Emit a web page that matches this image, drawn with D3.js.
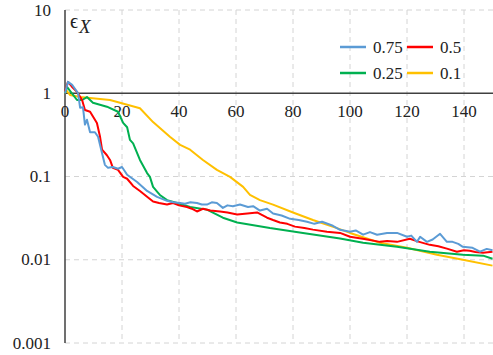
<!DOCTYPE html>
<html>
<head>
<meta charset="utf-8">
<script src="https://cdn.jsdelivr.net/npm/d3@7"></script>
<style>
  body { margin:0; background:#fff; }
</style>
</head>
<body>
<div id="chart"></div>
<script>
// iteration steps and error values
var xTicks = [0, 20, 40, 60, 80, 100, 120, 140];
var yTicks = [10, 1, 0.1, 0.01, 0.001];
var yTickLabels = ["10", "1", "0.1", "0.01", "0.001"];

var stepsBlue = [0, 1.05, 2.5, 4.6, 5.3, 6.3, 7, 7.7, 8.8, 10.5, 11.6, 13, 14, 15.1, 16.8, 18.6, 20, 21.8, 25.3, 28.8, 32.3, 35.8, 38, 40.4, 42.1, 44, 46.3, 48, 49.8, 51.5, 53.3, 55.4, 57, 58.9, 61.4, 64.2, 66, 68.4, 70.9, 73, 76, 79, 82, 84.9, 87.5, 90.2, 94, 96.5, 100, 102, 104.6, 107, 109.5, 113, 116.5, 120, 121.5, 123.5, 124.6, 127, 129, 131.6, 134, 136, 138, 139.6, 143, 145.6, 148, 150];
var valsBlue  = [1.0, 1.37, 1.26, 1.0, 0.67, 0.68, 0.42, 0.48, 0.34, 0.34, 0.30, 0.19, 0.138, 0.127, 0.13, 0.124, 0.13, 0.105, 0.086, 0.067, 0.057, 0.051, 0.049, 0.048, 0.047, 0.049, 0.048, 0.046, 0.046, 0.049, 0.048, 0.042, 0.045, 0.044, 0.046, 0.043, 0.044, 0.039, 0.041, 0.036, 0.034, 0.031, 0.030, 0.0286, 0.027, 0.0286, 0.0256, 0.0229, 0.0217, 0.0225, 0.020, 0.0215, 0.020, 0.021, 0.021, 0.0189, 0.0195, 0.0164, 0.0189, 0.0164, 0.0175, 0.0205, 0.0164, 0.0164, 0.0155, 0.0143, 0.0139, 0.0125, 0.0135, 0.0130];

var stepsRed = [0, 1.05, 2.5, 4.2, 6, 7, 8.8, 11.2, 12.3, 13, 14.7, 15.8, 16.8, 18.6, 20.4, 21.8, 23.9, 26.3, 28.8, 30.9, 33, 35.8, 37.9, 40, 42.8, 44.5, 46.3, 48.4, 51, 54.4, 57, 60.4, 64, 67.4, 70.9, 73, 75.4, 78, 80.7, 84, 87, 91.9, 96.5, 100, 105, 110.5, 113, 116.5, 121, 124, 128, 131, 134, 137.5, 140, 142, 144, 146.7, 150];
var valsRed  = [1.05, 1.37, 1.19, 1.04, 0.83, 0.63, 0.60, 0.44, 0.30, 0.21, 0.18, 0.158, 0.127, 0.12, 0.099, 0.094, 0.077, 0.067, 0.057, 0.050, 0.048, 0.046, 0.048, 0.045, 0.043, 0.041, 0.038, 0.041, 0.039, 0.038, 0.037, 0.035, 0.036, 0.037, 0.032, 0.030, 0.028, 0.027, 0.025, 0.024, 0.023, 0.0217, 0.021, 0.0189, 0.0178, 0.0164, 0.0168, 0.0164, 0.0179, 0.0165, 0.0151, 0.0145, 0.0136, 0.0125, 0.0130, 0.0128, 0.0124, 0.0121, 0.0125];

var stepsGreen = [0, 0.7, 4.2, 6, 7.7, 9.8, 14.7, 18.6, 20.4, 21.8, 22.8, 23.9, 26.3, 28.8, 29.8, 30.9, 32.6, 33.3, 35.8, 39.3, 43.9, 49.8, 55.4, 60.4, 71.9, 83.5, 96.5, 104.6, 116.5, 128, 139.6, 146.7, 150];
var valsGreen  = [1.0, 1.19, 0.83, 0.83, 0.90, 0.77, 0.69, 0.60, 0.44, 0.39, 0.275, 0.25, 0.158, 0.11, 0.099, 0.075, 0.064, 0.060, 0.052, 0.048, 0.043, 0.040, 0.032, 0.028, 0.024, 0.021, 0.018, 0.016, 0.0143, 0.0125, 0.0115, 0.0112, 0.0103];

var stepsYellow = [0, 0.35, 1.75, 5.3, 15.8, 19.3, 26.3, 30.9, 36.8, 40.4, 43.9, 48.4, 53.3, 57.9, 62.5, 64.9, 68.4, 73, 80, 87, 95.4, 100, 110.5, 120, 130.5, 139.6, 150];
var valsYellow  = [1.0, 1.1, 0.955, 0.90, 0.83, 0.77, 0.66, 0.45, 0.30, 0.24, 0.21, 0.158, 0.12, 0.099, 0.075, 0.060, 0.052, 0.046, 0.037, 0.030, 0.024, 0.021, 0.016, 0.0139, 0.0115, 0.010, 0.0085];

var seriesNames = ["0.75", "0.5", "0.25", "0.1"];
var seriesColors = ["#5b9bd5", "#ff0000", "#00b050", "#ffc000"];

var W = 493, H = 355;
var FONT = "Liberation Serif";
var svg = d3.select("#chart").append("svg").attr("width", W).attr("height", H);

var x = d3.scaleLinear().domain([0, 150]).range([65, 492.5]);
var y = d3.scaleLog().domain([0.001, 10]).range([343, 10]);

// dashed grid
svg.append("g").selectAll("line").data(xTicks.slice(1)).enter().append("line")
  .attr("x1", function(d){ return x(d); }).attr("x2", function(d){ return x(d); })
  .attr("y1", y(10)).attr("y2", y(0.001))
  .attr("stroke", "#d4d4d4").attr("stroke-width", 1).attr("stroke-dasharray", "5,4");
svg.append("g").selectAll("line").data([10, 0.1, 0.01, 0.001]).enter().append("line")
  .attr("x1", x(0)).attr("x2", W)
  .attr("y1", function(d){ return y(d); }).attr("y2", function(d){ return y(d); })
  .attr("stroke", "#d4d4d4").attr("stroke-width", 1).attr("stroke-dasharray", "5,4");

// axes: vertical at x=0, horizontal crossing at 1
svg.append("line").attr("x1", x(0)).attr("x2", x(0)).attr("y1", y(10)).attr("y2", y(0.001))
  .attr("stroke", "#404040").attr("stroke-width", 1.5);
svg.append("line").attr("x1", x(0)).attr("x2", W).attr("y1", y(1)).attr("y2", y(1))
  .attr("stroke", "#404040").attr("stroke-width", 1.5);

svg.append("g").selectAll("text").data(xTicks).enter().append("text")
  .attr("x", function(d){ return x(d); }).attr("y", y(1) + 24)
  .attr("text-anchor", "middle").attr("font-family", FONT).attr("font-size", 17).attr("fill", "#222")
  .text(function(d){ return d; });

svg.append("g").selectAll("text").data(yTicks).enter().append("text")
  .attr("x", 51).attr("y", function(d){ return y(d) + 5.5; })
  .attr("text-anchor", "end").attr("font-family", FONT).attr("font-size", 17).attr("fill", "#222")
  .text(function(d, i){ return yTickLabels[i]; });

// axis title
var ttl = svg.append("text").attr("x", 70).attr("y", 28).attr("font-family", FONT)
  .attr("font-size", 20).attr("fill", "#222");
ttl.append("tspan").text("\u03F5");
ttl.append("tspan").attr("dx", 1).attr("dy", 5).attr("font-style", "italic").attr("font-size", 19).text("X");

var line = d3.line()
  .x(function(d){ return x(d[0]); })
  .y(function(d){ return y(d[1]); });

var series = [
  d3.zip(stepsBlue, valsBlue),
  d3.zip(stepsRed, valsRed),
  d3.zip(stepsGreen, valsGreen),
  d3.zip(stepsYellow, valsYellow)
];
// draw order: yellow, green, red, blue on top
[3, 2, 1, 0].forEach(function(i){
  svg.append("path").datum(series[i])
    .attr("fill", "none").attr("stroke", seriesColors[i])
    .attr("stroke-width", 2).attr("stroke-linejoin", "round")
    .attr("d", line);
});

// legend
var legPos = [[340, 47], [407, 47], [340, 73], [407, 73]];
seriesNames.forEach(function(name, i){
  var p = legPos[i];
  svg.append("line").attr("x1", p[0]).attr("x2", p[0] + 26).attr("y1", p[1]).attr("y2", p[1])
    .attr("stroke", seriesColors[i]).attr("stroke-width", 2.5);
  svg.append("text").attr("x", p[0] + 33).attr("y", p[1] + 5.5).attr("font-family", FONT)
    .attr("font-size", 17).attr("fill", "#222").text(name);
});
</script>
</body>
</html>
